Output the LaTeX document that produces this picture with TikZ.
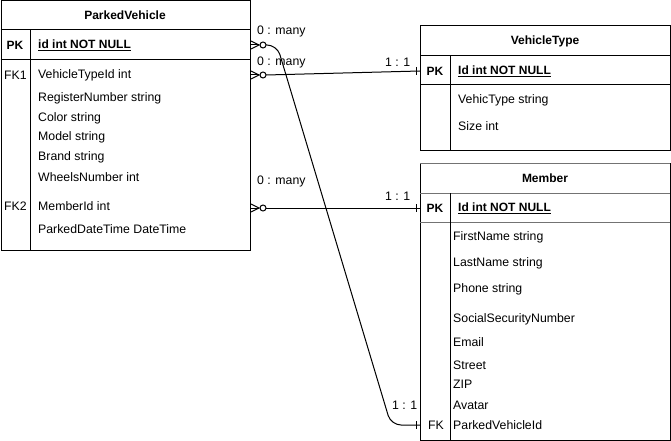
\documentclass[tikz,border=0pt]{standalone}
\usepackage{fontspec}
\setmainfont{Liberation Sans}

\tikzset{
  tbl/.style     = {draw, line width=1pt, anchor=north west, inner sep=0pt},
  title/.style   = {inner sep=0pt, font=\fontsize{12}{14}\selectfont\bfseries},
  field/.style   = {anchor=west, inner sep=0pt, font=\fontsize{12.3}{14}\selectfont},
  keyfield/.style= {field, font=\fontsize{12}{14}\selectfont\bfseries},
  card/.style    = {anchor=west, inner sep=0pt, font=\fontsize{12.3}{14}\selectfont},
  rel/.style     = {line width=1pt, black},
  mbline/.style  = {line width=1pt, black!55}
}

% zero-to-many end, drawn at the edge of a table
\newcommand{\zeromany}[1]{%
  \draw[rel] (#1) ++(0,-4) -- ++(8,4) -- ++(-8,4);
  \draw[rel] (#1) -- ++(8,0);
  \draw[rel] (#1) ++(12,0) circle (3pt);
}
% one end, a tick in front of the table
\newcommand{\onemark}[1]{%
  \draw[rel] (#1) ++(-4,-4) -- ++(0,8);
}

\begin{document}
\begin{tikzpicture}[x=1pt, y=-1pt]

\useasboundingbox (0,0) rectangle (671,441);

% ParkedVehicle
\node[tbl, minimum width=249.5pt, minimum height=249pt] (pv) at (0.5,0.5) {};
\draw[line width=1pt] (0.5,30) -- (250,30);
\draw[line width=1pt] (0.5,60) -- (250,60);
\draw[line width=1pt] (30,30) -- (30,249.5);

\node[title] (pvtitle) at (125,15) {ParkedVehicle};
\node[title] (pvpk) at (15,45) {PK};
\node[keyfield] (pvid) at (38,45) {\underline{id int NOT NULL}};
\node[field] (pvfka) at (4,75) {FK1};
\node[field] (pvvt) at (38,75) {VehicleTypeId int};
\node[field] (pvreg) at (38,98) {RegisterNumber string};
\node[field] (pvcol) at (38,118) {Color string};
\node[field] (pvmod) at (38,137) {Model string};
\node[field] (pvbra) at (38,157) {Brand string};
\node[field] (pvwhe) at (38,177) {WheelsNumber int};
\node[field] (pvfkb) at (4,206) {FK2};
\node[field] (pvmem) at (38,206) {MemberId int};
\node[field] (pvdat) at (38,229) {ParkedDateTime DateTime};

% VehicleType
\node[tbl, minimum width=250pt, minimum height=124.5pt] (vt) at (420,25.5) {};
\draw[line width=1pt] (420,56) -- (670,56);
\draw[line width=1pt] (420,85) -- (670,85);
\draw[line width=1pt] (450.5,56) -- (450.5,150);

\node[title] (vttitle) at (545,41) {VehicleType};
\node[title] (vtpk) at (435,71) {PK};
\node[keyfield] (vtid) at (458,71) {\underline{Id int NOT NULL}};
\node[field] (vttyp) at (458,100) {VehicType string};
\node[field] (vtsiz) at (458,126) {Size int};

% Member
\node[tbl, minimum width=250pt, minimum height=277pt] (mb) at (420,163) {};
\draw[mbline] (420,163) -- (670,163);
\draw[mbline] (420,193) -- (670,193);
\draw[mbline] (420,222) -- (670,222);
\draw[line width=1pt] (450.5,193) -- (450.5,440);

\node[title] (mbtitle) at (545,178) {Member};
\node[title] (mbpk) at (435,208) {PK};
\node[keyfield] (mbid) at (458,208) {\underline{Id int NOT NULL}};
\node[field] (mbfir) at (453,237) {FirstName string};
\node[field] (mblas) at (453,263) {LastName string};
\node[field] (mbpho) at (453,289) {Phone string};
\node[field] (mbssn) at (453,319) {SocialSecurityNumber};
\node[field] (mbema) at (453,342) {Email};
\node[field] (mbstr) at (453,365) {Street};
\node[field] (mbzip) at (453,384) {ZIP};
\node[field] (mbava) at (453,405) {Avatar};
\node[field] (mbfk) at (428,425) {FK};
\node[field] (mbpv) at (453,425) {ParkedVehicleId};

% relations
\coordinate (relaa) at (pv.east |- pvid);
\coordinate (relab) at (mb.west |- mbpv);
\zeromany{relaa}
\onemark{relab}
\draw[rel, rounded corners=10pt] ([xshift=15pt]relaa) -- (277,45) -- (391,425) -- (relab);
\node[card] (relaal) at (257,31) {0 : many};
\node[card] (relabl) at (392,405) {1 : 1};

\coordinate (relba) at (pv.east |- pvvt);
\coordinate (relbb) at (vt.west |- vtid);
\zeromany{relba}
\onemark{relbb}
\draw[rel] ([xshift=15pt]relba) -- (relbb);
\node[card] (relbal) at (257,62) {0 : many};
\node[card] (relbbl) at (385,62) {1 : 1};

\coordinate (relca) at (pv.east |- mbid);
\coordinate (relcb) at (mb.west |- mbid);
\zeromany{relca}
\onemark{relcb}
\draw[rel] ([xshift=15pt]relca) -- (relcb);
\node[card] (relcal) at (257,181) {0 : many};
\node[card] (relcbl) at (385,196) {1 : 1};

\end{tikzpicture}
\end{document}
